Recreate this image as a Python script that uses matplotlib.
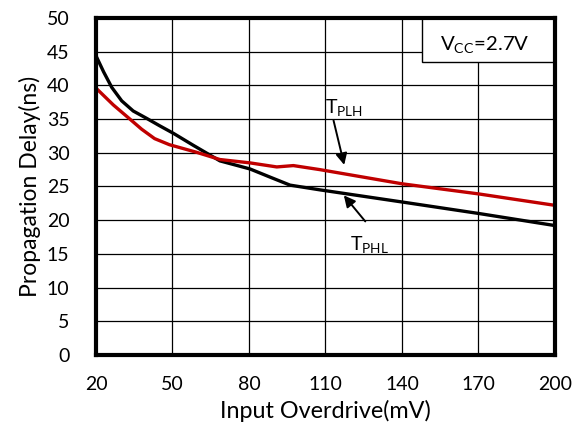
import numpy as np
import matplotlib
matplotlib.use('Agg')
import matplotlib.pyplot as plt

plt.rcParams['font.family'] = ['Lato', 'DejaVu Sans']

# T_PHL (black) and T_PLH (red)
phl_x = [20, 23, 26.2, 30.1, 34.6, 39.9, 45, 50.3, 58.2, 68.6, 80.4, 88.2, 96.1, 107.8, 140, 170, 200]
phl_y = [44.4, 42.0, 39.7, 37.7, 36.2, 35.1, 34.0, 32.9, 31.1, 28.8, 27.6, 26.4, 25.2, 24.5, 22.7, 21.0, 19.2]
plh_x = [20, 26.8, 33.3, 37.9, 43, 48.8, 59.2, 68.6, 80.4, 90.9, 97.4, 107.8, 140, 170, 200]
plh_y = [39.6, 37.1, 35.0, 33.5, 32.1, 31.2, 30.1, 29.0, 28.5, 27.9, 28.1, 27.5, 25.4, 23.9, 22.2]

x_ticks = [20, 50, 80, 110, 140, 170, 200]
y_ticks = list(range(0, 51, 5))

fig = plt.figure(figsize=(5.82, 4.28), dpi=100)
ax = fig.add_axes([0.1649, 0.1706, 0.7887, 0.7874])

ax.plot(phl_x, phl_y, color='black', lw=2.4, zorder=3)
ax.plot(plh_x, plh_y, color='#C00000', lw=2.4, zorder=3)

ax.set_xlim(20, 200)
ax.set_ylim(0, 50)
ax.set_xticks(x_ticks)
ax.set_yticks(y_ticks)
ax.grid(True, color='black', lw=0.9)
ax.tick_params(length=0, labelsize=14)
ax.tick_params(axis='x', pad=15)
ax.tick_params(axis='y', pad=19)
for s in ax.spines.values():
    s.set_linewidth(3)
    s.set_zorder(5)

ax.set_xlabel('Input Overdrive(mV)', fontsize=16.8, labelpad=5)
ax.set_ylabel('Propagation Delay(ns)', fontsize=16.5, labelpad=4)

# annotations
ax.annotate('', xy=(117.6, 27.8), xytext=(112.9, 35.2),
            arrowprops=dict(arrowstyle='-|>', color='black', lw=1.4, mutation_scale=17), zorder=4)
ax.text(109.8, 35.75, r'T$_{\mathregular{PLH}}$', fontsize=14, va='baseline', ha='left')
ax.annotate('', xy=(116.5, 24.0), xytext=(126.3, 19.5),
            arrowprops=dict(arrowstyle='-|>', color='black', lw=1.4, mutation_scale=17), zorder=4)
ax.text(119.6, 15.5, r'T$_{\mathregular{PHL}}$', fontsize=14, va='baseline', ha='left')

ax.add_patch(plt.Rectangle((147.7, 43.5), 52.3, 6.5, fc='white', ec='black', lw=1.0, zorder=4))
ax.text(172.5, 45.1, r'V$_{\mathregular{CC}}$=2.7V', fontsize=14.7, va='baseline', ha='center', zorder=6)

fig.savefig('out.png', dpi=100)
